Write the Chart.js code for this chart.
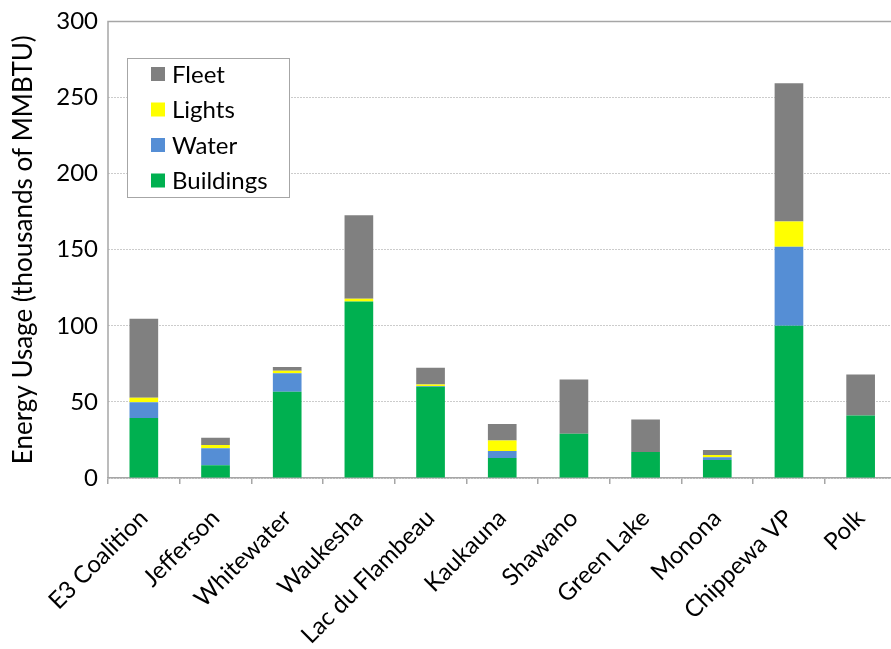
<!DOCTYPE html>
<html>
<head>
<meta charset="utf-8">
<script src="https://cdn.jsdelivr.net/npm/chart.js@4/dist/chart.umd.min.js"></script>
<style>
  html, body { margin: 0; padding: 0; background: #fff; overflow: hidden; }
  #wrap { width: 901px; height: 649px; position: relative; }
</style>
</head>
<body>
<div id="wrap"><canvas id="grafica"></canvas></div>
<script>
const ciudades = ['E3 Coalition', 'Jefferson', 'Whitewater', 'Waukesha', 'Lac du Flambeau',
  'Kaukauna', 'Shawano', 'Green Lake', 'Monona', 'Chippewa VP', 'Polk'];

// thousands of MMBTU per sector
const buildings = [39.5, 8.3, 56.6, 116, 60, 13.2, 29, 17.1, 11.8, 100, 41];
const water     = [10.2, 11.2, 12.2, 0, 0.5, 4.6, 0, 0, 1.8, 52, 0];
const lights    = [3, 2.2, 1.6, 1.8, 1, 6.8, 0, 0, 1.5, 16.6, 0];
const fleet     = [52, 4.8, 2.6, 54.8, 11, 10.9, 35.7, 21.3, 3.3, 90.8, 27];

const ejeY = [0, 50, 100, 150, 200, 250, 300];

const fuente = 'Lato, "Open Sans", sans-serif';

// leyenda dibujada dentro del area del grafico
const leyendaInterna = {
  id: 'leyendaInterna',
  afterDraw(chart) {
    const ctx = chart.ctx;
    const x = 127, y = 58, w = 162, h = 139;
    ctx.save();
    ctx.fillStyle = '#fff';
    ctx.fillRect(x, y, w, h);
    ctx.strokeStyle = '#a6a6a6';
    ctx.lineWidth = 1;
    ctx.strokeRect(x + 0.5, y + 0.5, w, h);
    ctx.font = '24px ' + fuente;
    ctx.textBaseline = 'middle';
    const items = chart.data.datasets.slice().reverse();
    items.forEach((ds, i) => {
      const cy = y + 16 + i * 35.5;
      ctx.fillStyle = ds.backgroundColor;
      ctx.fillRect(x + 24, cy - 7, 14, 14);
      ctx.fillStyle = '#000';
      ctx.fillText(ds.label, x + 45, cy + 1);
    });
    ctx.restore();
  }
};

// marco superior e izquierdo del area de trazado
const marco = {
  id: 'marco',
  afterDatasetsDraw(chart) {
    const { ctx, chartArea: a } = chart;
    ctx.save();
    ctx.strokeStyle = '#a6a6a6';
    ctx.lineWidth = 1.5;
    ctx.beginPath();
    ctx.moveTo(a.left, a.bottom);
    ctx.lineTo(a.left, a.top);
    ctx.lineTo(a.right, a.top);
    ctx.stroke();
    ctx.restore();
  }
};

new Chart(document.getElementById('grafica'), {
  type: 'bar',
  data: {
    labels: ciudades,
    datasets: [
      { label: 'Buildings', data: buildings, backgroundColor: '#00B050' },
      { label: 'Water', data: water, backgroundColor: '#558ED5' },
      { label: 'Lights', data: lights, backgroundColor: '#FFFF00' },
      { label: 'Fleet', data: fleet, backgroundColor: '#808080' }
    ]
  },
  options: {
    responsive: true,
    maintainAspectRatio: false,
    animation: false,
    layout: { padding: { top: 19, right: 0, left: 0, bottom: 0 } },
    datasets: {
      bar: {
        categoryPercentage: 1,
        barPercentage: 0.4,
        borderWidth: 0
      }
    },
    plugins: {
      legend: { display: false },
      tooltip: { enabled: false }
    },
    scales: {
      x: {
        stacked: true,
        grid: {
          offset: true,
          drawOnChartArea: false,
          drawTicks: true,
          tickLength: 6,
          color: '#a6a6a6',
          lineWidth: 1.5
        },
        border: { display: true, color: '#a6a6a6', width: 1.5 },
        ticks: {
          color: '#000',
          font: { family: fuente, size: 24 },
          minRotation: 45,
          maxRotation: 45,
          autoSkip: false,
          padding: 20
        },
        afterFit(scale) { scale.height = 171; }
      },
      y: {
        stacked: true,
        min: 0,
        max: 300,
        afterBuildTicks(scale) { scale.ticks = ejeY.map(v => ({ value: v })); },
        grid: {
          drawTicks: false,
          color: '#cccccc',
          lineWidth: 1
        },
        border: { display: false, dash: [2, 1] },
        ticks: {
          color: '#000',
          font: { family: fuente, size: 24, lineHeight: 0.95 },
          padding: 10
        },
        title: {
          display: true,
          text: 'Energy Usage (thousands of MMBTU)',
          color: '#000',
          font: { family: fuente, size: 26 },
          padding: { top: 8, bottom: 0 }
        },
        afterFit(scale) { scale.width = 108; }
      }
    }
  },
  plugins: [marco, leyendaInterna]
});
</script>
</body>
</html>
